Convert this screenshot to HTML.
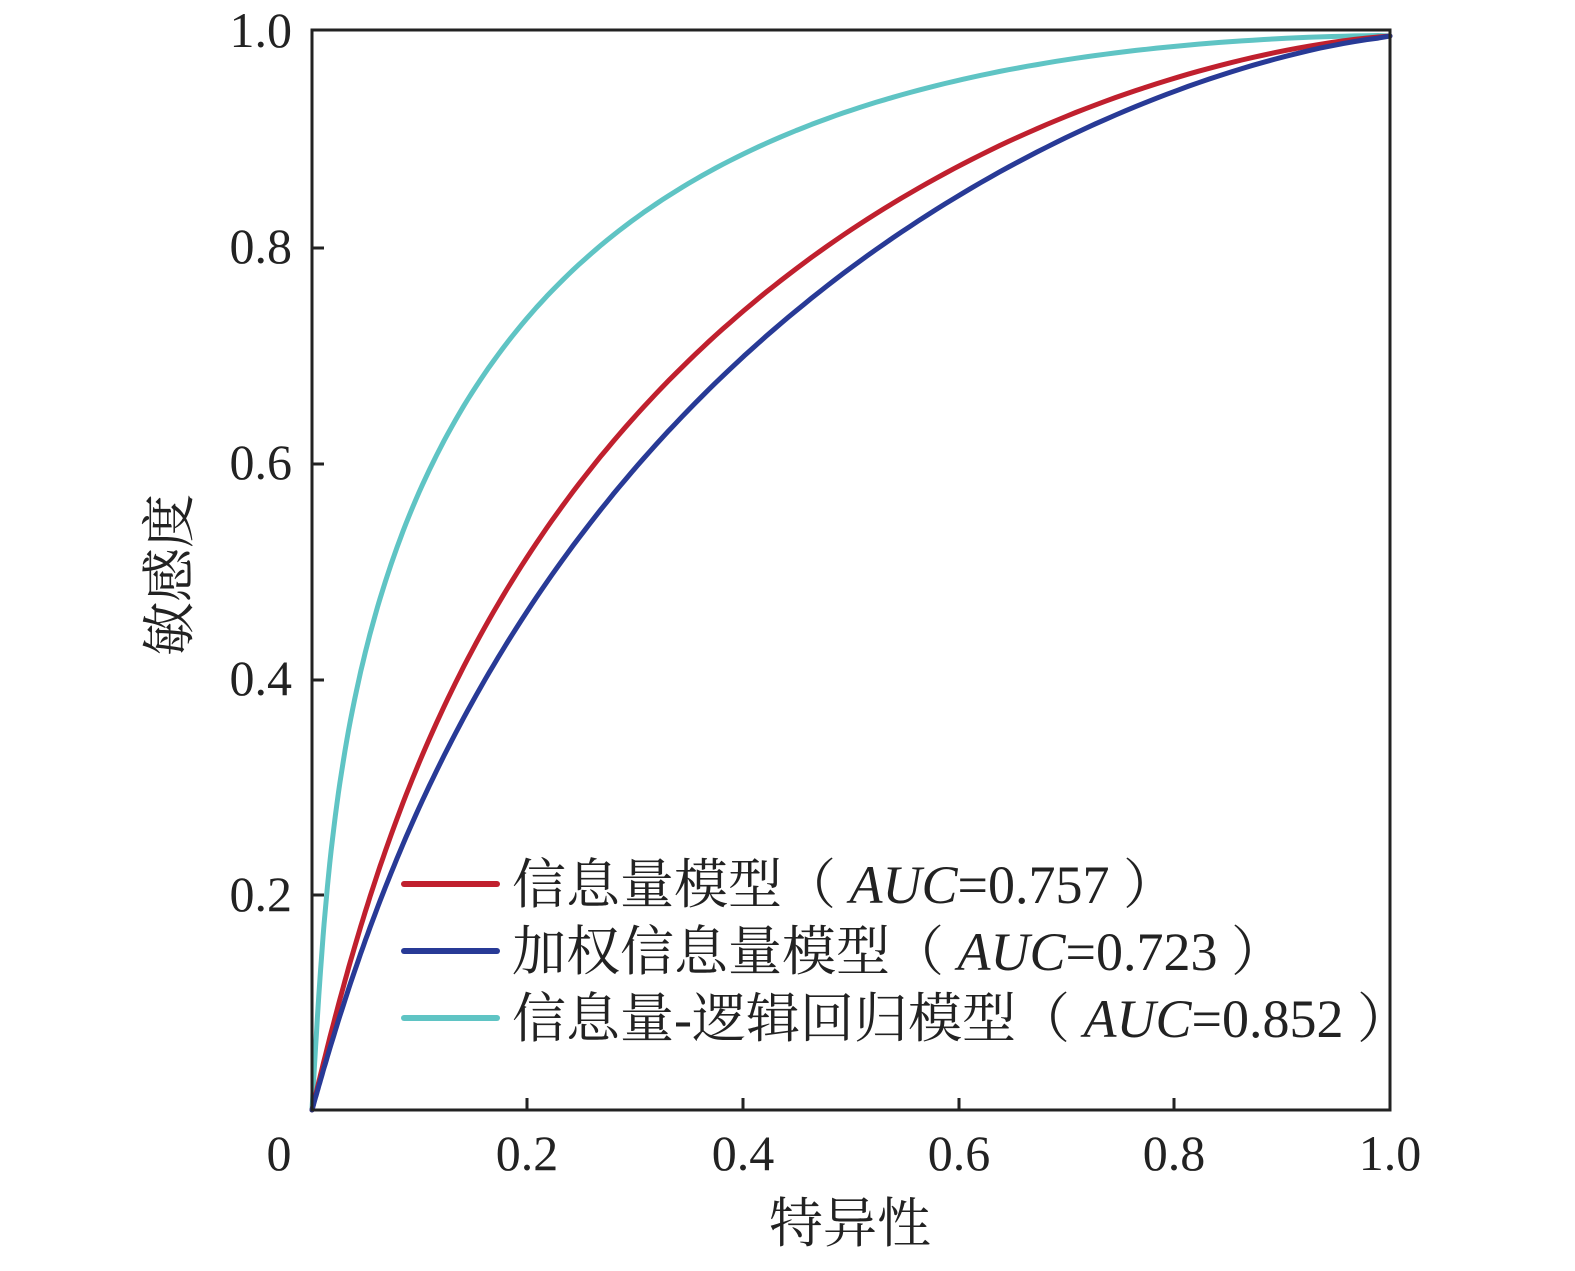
<!DOCTYPE html>
<html><head><meta charset="utf-8"><style>
body{margin:0;background:#fff;}
svg text{font-family:"Liberation Serif","Noto Serif CJK SC",serif;fill:#222;}
</style></head><body>
<svg id="s" width="1575" height="1266" viewBox="0 0 1575 1266" xmlns="http://www.w3.org/2000/svg">
<rect width="1575" height="1266" fill="#fff"/>
<g fill="none" stroke-width="5" stroke-linejoin="round" stroke-linecap="round">
<polyline id="c" stroke="#5fc4c4" points=""/>
<polyline id="r" stroke="#c0202e" points=""/>
<polyline id="b" stroke="#283a96" points=""/>
</g>
<rect x="312" y="30" width="1078" height="1080" fill="none" stroke="#222" stroke-width="3"/>
<g stroke="#222" stroke-width="3">
<line x1="527" y1="1110" x2="527" y2="1098"/><line x1="743" y1="1110" x2="743" y2="1098"/>
<line x1="959" y1="1110" x2="959" y2="1098"/><line x1="1174" y1="1110" x2="1174" y2="1098"/>
<line x1="312" y1="248" x2="324" y2="248"/><line x1="312" y1="464" x2="324" y2="464"/>
<line x1="312" y1="680" x2="324" y2="680"/><line x1="312" y1="895" x2="324" y2="895"/>
</g>
<g font-size="50">
<text x="292" y="47" text-anchor="end">1.0</text>
<text x="292" y="263" text-anchor="end">0.8</text>
<text x="292" y="479" text-anchor="end">0.6</text>
<text x="292" y="695" text-anchor="end">0.4</text>
<text x="292" y="911" text-anchor="end">0.2</text>
<text x="279" y="1170" text-anchor="middle">0</text>
<text x="527" y="1170" text-anchor="middle">0.2</text>
<text x="743" y="1170" text-anchor="middle">0.4</text>
<text x="959" y="1170" text-anchor="middle">0.6</text>
<text x="1174" y="1170" text-anchor="middle">0.8</text>
<text x="1390" y="1170" text-anchor="middle">1.0</text>
</g>
<text x="850" y="1242" font-size="54" text-anchor="middle">特异性</text>
<text transform="translate(188,575) rotate(-90)" font-size="54" text-anchor="middle">敏感度</text>
<g stroke-width="6" stroke-linecap="round">
<line x1="404" y1="884" x2="497" y2="884" stroke="#c0202e"/>
<line x1="404" y1="951" x2="497" y2="951" stroke="#283a96"/>
<line x1="404" y1="1018" x2="497" y2="1018" stroke="#5fc4c4"/>
</g>
<g font-size="54">
<text x="512" y="903">信息量模型（ <tspan font-style="italic">AUC</tspan>=0.757 ）</text>
<text x="512" y="970">加权信息量模型（ <tspan font-style="italic">AUC</tspan>=0.723 ）</text>
<text x="512" y="1037">信息量-逻辑回归模型（ <tspan font-style="italic">AUC</tspan>=0.852 ）</text>
</g>
</svg>
<script>
function erf(x){var s=x<0?-1:1;x=Math.abs(x);var t=1/(1+0.3275911*x);
var y=1-(((((1.061405429*t-1.453152027)*t)+1.421413741)*t-0.284496736)*t+0.254829592)*t*Math.exp(-x*x);return s*y;}
function Phi(z){return 0.5*(1+erf(z/Math.SQRT2));}
function inv(p){var lo=-9,hi=9;for(var i=0;i<60;i++){var m=(lo+hi)/2;if(Phi(m)<p)lo=m;else hi=m;}return (lo+hi)/2;}
function pts(a,k){var o=["312,1110"];for(var i=1;i<200;i++){var t=i/200;var x=Math.pow(t,2.2);
var f=Phi(a+inv(x)),g=k*x,p=4;var y=Math.pow(Math.pow(f,-p)+Math.pow(g,-p),-1/p)*0.995;
o.push((312+x*1078).toFixed(1)+","+(1110-y*1080).toFixed(1));}
o.push("1390,36");return o.join(" ");}
document.getElementById("c").setAttribute("points",pts(1.478,18));
document.getElementById("r").setAttribute("points",pts(0.93,4.2));
document.getElementById("b").setAttribute("points",pts(0.81,3.6));
</script>
</body></html>
